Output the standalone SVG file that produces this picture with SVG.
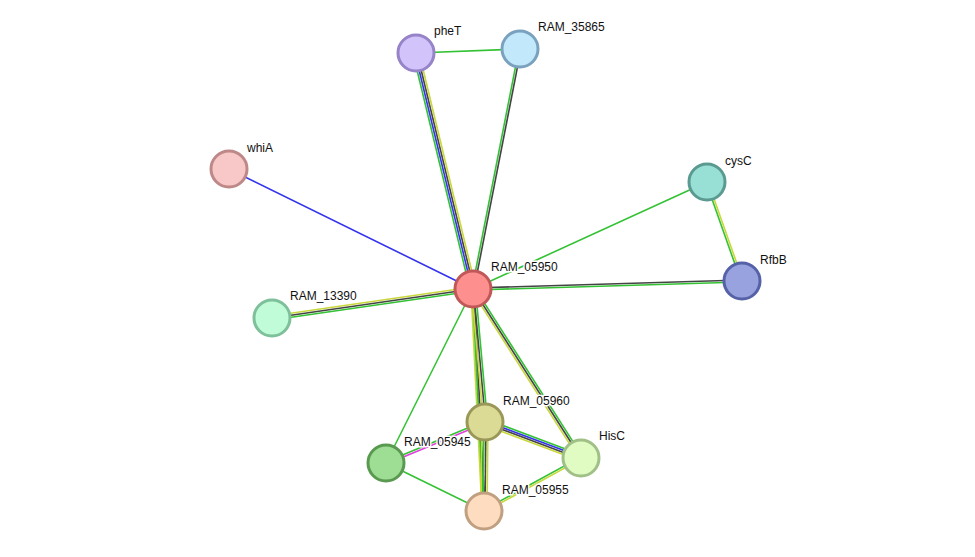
<svg xmlns="http://www.w3.org/2000/svg" width="975" height="557" viewBox="0 0 975 557">
<style>
.e line{stroke-width:1.6;fill:none}
.g{stroke:#33c233}.b{stroke:#3333ee}.k{stroke:#444444}.y{stroke:#c8d83a}.m{stroke:#e040e0}
.n circle{stroke-width:3}
.n text{font-family:"Liberation Sans",Arial,sans-serif;font-size:12px;fill:#111;stroke:#fff;stroke-width:3;paint-order:stroke;stroke-linejoin:round}
</style>
<rect width="975" height="557" fill="#fff"/>
<g id="connectors" class="e">
<line class="g" x1="416" y1="53" x2="520" y2="49"/>
<line class="g" x1="413.08" y1="53.70" x2="470.08" y2="289.70"/>
<line class="b" x1="415.03" y1="53.23" x2="472.03" y2="289.23"/>
<line class="k" x1="416.97" y1="52.77" x2="473.97" y2="288.77"/>
<line class="y" x1="418.92" y1="52.30" x2="475.92" y2="288.30"/>
<line class="g" x1="519.02" y1="48.81" x2="472.02" y2="288.81"/>
<line class="k" x1="520.98" y1="49.19" x2="473.98" y2="289.19"/>
<line class="b" x1="229" y1="169" x2="473" y2="289"/>
<line class="g" x1="707" y1="182" x2="473" y2="289"/>
<line class="g" x1="706.06" y1="182.33" x2="741.06" y2="281.33"/>
<line class="y" x1="707.94" y1="181.67" x2="742.94" y2="280.67"/>
<line class="k" x1="473" y1="288" x2="742" y2="280"/>
<line class="g" x1="473" y1="290" x2="742" y2="282"/>
<line class="y" x1="271.71" y1="316.02" x2="472.71" y2="287.02"/>
<line class="k" x1="272" y1="318" x2="473" y2="289"/>
<line class="g" x1="272.29" y1="319.98" x2="473.29" y2="290.98"/>
<line class="g" x1="473" y1="289" x2="386" y2="463"/>
<line class="y" x1="471" y1="289.2" x2="482" y2="511.1"/>
<line class="g" x1="472.5" y1="289.1" x2="483.5" y2="511"/>
<line class="k" x1="474" y1="289" x2="485" y2="511"/>
<line class="y" x1="471.5" y1="289" x2="483.5" y2="422"/>
<line class="k" x1="473.5" y1="289" x2="485.5" y2="422"/>
<line class="g" x1="475.5" y1="289" x2="487.5" y2="422"/>
<line class="y" x1="482" y1="422" x2="481" y2="511"/>
<line class="g" x1="484" y1="422" x2="483" y2="511"/>
<line class="k" x1="486" y1="422" x2="485" y2="511"/>
<line class="y" x1="488" y1="422" x2="487" y2="511"/>
<line class="y" x1="471.32" y1="290.08" x2="579.32" y2="459.08"/>
<line class="k" x1="473" y1="289" x2="581" y2="458"/>
<line class="g" x1="474.68" y1="287.92" x2="582.68" y2="456.92"/>
<line class="g" x1="486.05" y1="419.19" x2="582.05" y2="455.19"/>
<line class="b" x1="485.35" y1="421.06" x2="581.35" y2="457.06"/>
<line class="k" x1="484.65" y1="422.94" x2="580.65" y2="458.94"/>
<line class="y" x1="483.95" y1="424.81" x2="579.95" y2="460.81"/>
<line class="g" x1="484.62" y1="421.08" x2="385.62" y2="462.08"/>
<line class="m" x1="485.38" y1="422.92" x2="386.38" y2="463.92"/>
<line class="g" x1="386" y1="463" x2="484" y2="511"/>
<line class="g" x1="483.52" y1="510.12" x2="580.52" y2="457.12"/>
<line class="y" x1="484.48" y1="511.88" x2="581.48" y2="458.88"/>
</g>
<g id="pheT" class="n"><circle cx="416" cy="53" r="18" fill="#d2c4fb" stroke="#9683c8"/><text x="434" y="35">pheT</text></g>
<g id="RAM_35865" class="n"><circle cx="520" cy="49" r="18" fill="#c2e8fc" stroke="#7aa2be"/><text x="538" y="31">RAM_35865</text></g>
<g id="whiA" class="n"><circle cx="229" cy="169" r="18" fill="#f8c8c8" stroke="#bf8888"/><text x="247" y="152">whiA</text></g>
<g id="cysC" class="n"><circle cx="707" cy="182" r="18" fill="#98e0d6" stroke="#5a9a90"/><text x="725" y="165">cysC</text></g>
<g id="RAM_05950" class="n"><circle cx="473" cy="289" r="18" fill="#fe8f8f" stroke="#c05858"/><text x="491" y="271">RAM_05950</text></g>
<g id="RfbB" class="n"><circle cx="742" cy="281" r="18" fill="#98a2de" stroke="#5562a8"/><text x="760" y="264">RfbB</text></g>
<g id="RAM_13390" class="n"><circle cx="272" cy="318" r="18" fill="#c0fcd8" stroke="#7ec09a"/><text x="290" y="300">RAM_13390</text></g>
<g id="RAM_05960" class="n"><circle cx="485" cy="422" r="18" fill="#dcdb95" stroke="#9a9858"/><text x="503" y="405">RAM_05960</text></g>
<g id="HisC" class="n"><circle cx="581" cy="458" r="18" fill="#e0fcc2" stroke="#a0c088"/><text x="599" y="440">HisC</text></g>
<g id="RAM_05945" class="n"><circle cx="386" cy="463" r="18" fill="#9ede94" stroke="#5a9a50"/><text x="404" y="446">RAM_05945</text></g>
<g id="RAM_05955" class="n"><circle cx="484" cy="511" r="18" fill="#fedcc0" stroke="#c0a080"/><text x="502" y="494">RAM_05955</text></g>
</svg>
